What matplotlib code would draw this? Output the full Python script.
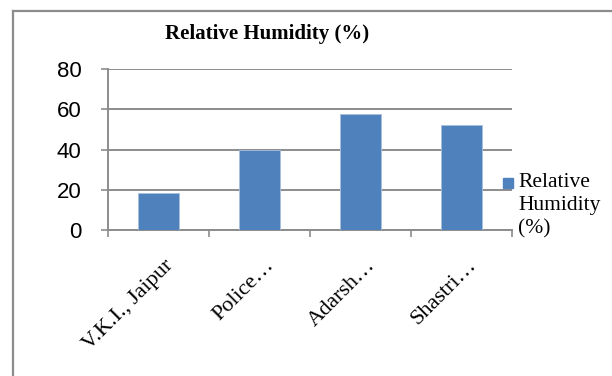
import matplotlib
matplotlib.use("Agg")
import matplotlib.pyplot as plt
from matplotlib.lines import Line2D
from matplotlib.patches import Rectangle
from matplotlib.transforms import ScaledTranslation

categories = ["V.K.I., Jaipur", "Police\u2026", "Adarsh\u2026", "Shastri\u2026"]
humidity = [18.5, 40, 57.5, 52.3]
yticks = [0, 20, 40, 60, 80]
series_name = "Relative Humidity (%)"

W, H = 612, 376
fig = plt.figure(figsize=(W / 100, H / 100), dpi=100)
fig.patch.set_facecolor("white")

grid_col = "#8c8c8c"
bar_col = "#4f81bd"

# outer chart frame (left and top edges)
fig.add_artist(Line2D([12.5 / W, 12.5 / W], [0, 1 - 10.5 / H], color=grid_col, lw=1.6,
                      transform=fig.transFigure))
fig.add_artist(Line2D([12.5 / W, 1], [1 - 10.5 / H, 1 - 10.5 / H], color=grid_col, lw=1.6,
                      transform=fig.transFigure))

left, right, top, bottom = 108, 512, 69, 230
ax = fig.add_axes([left / W, 1 - bottom / H, (right - left) / W, (bottom - top) / H])

x = list(range(len(categories)))
ax.bar(x, humidity, width=0.4, color=bar_col, edgecolor="#a7c0de", linewidth=0.6,
       zorder=3, label=series_name)
ax.set_xlim(-0.5, len(categories) - 0.5)
ax.set_ylim(0, 80)
ax.set_yticks(yticks)
ax.set_yticklabels([str(v) for v in yticks], fontfamily="Liberation Sans", fontsize=16)
ax.yaxis.grid(True, color=grid_col, lw=1.4, zorder=0)
ax.tick_params(axis="y", length=5, width=1.2, color=grid_col, pad=14)

# category boundaries carry the x ticks
ax.set_xticks([i - 0.5 for i in range(len(categories) + 1)])
ax.set_xticklabels([])
ax.tick_params(axis="x", length=5, width=1.2, color=grid_col)

# rotated category names, anchored at the end of their baseline
offset = ScaledTranslation(15 / 100, -36 / 100, fig.dpi_scale_trans)
for xi, name in zip(x, categories):
    ax.text(xi, 0, name, transform=ax.get_xaxis_transform() + offset,
            rotation=45, rotation_mode="anchor", ha="right", va="baseline",
            fontfamily="Liberation Serif", fontsize=16)

for s in ["top", "right"]:
    ax.spines[s].set_visible(False)
for s in ["left", "bottom"]:
    ax.spines[s].set_color(grid_col)
    ax.spines[s].set_linewidth(1.4)

fig.text(267 / W, 1 - 39 / H, series_name, ha="center", va="baseline",
         fontfamily="Liberation Serif", fontweight="bold", fontsize=15)

# legend
fig.add_artist(Rectangle((503 / W, 1 - 188 / H), 10 / W, 10 / H, color=bar_col,
                         transform=fig.transFigure))
fig.text(518 / W, 1 - 173 / H, "Relative\nHumidity\n(%)", ha="left", va="top",
         fontfamily="Liberation Serif", fontsize=15.5, linespacing=1.3)

fig.savefig("out.png", dpi=100, facecolor="white")
